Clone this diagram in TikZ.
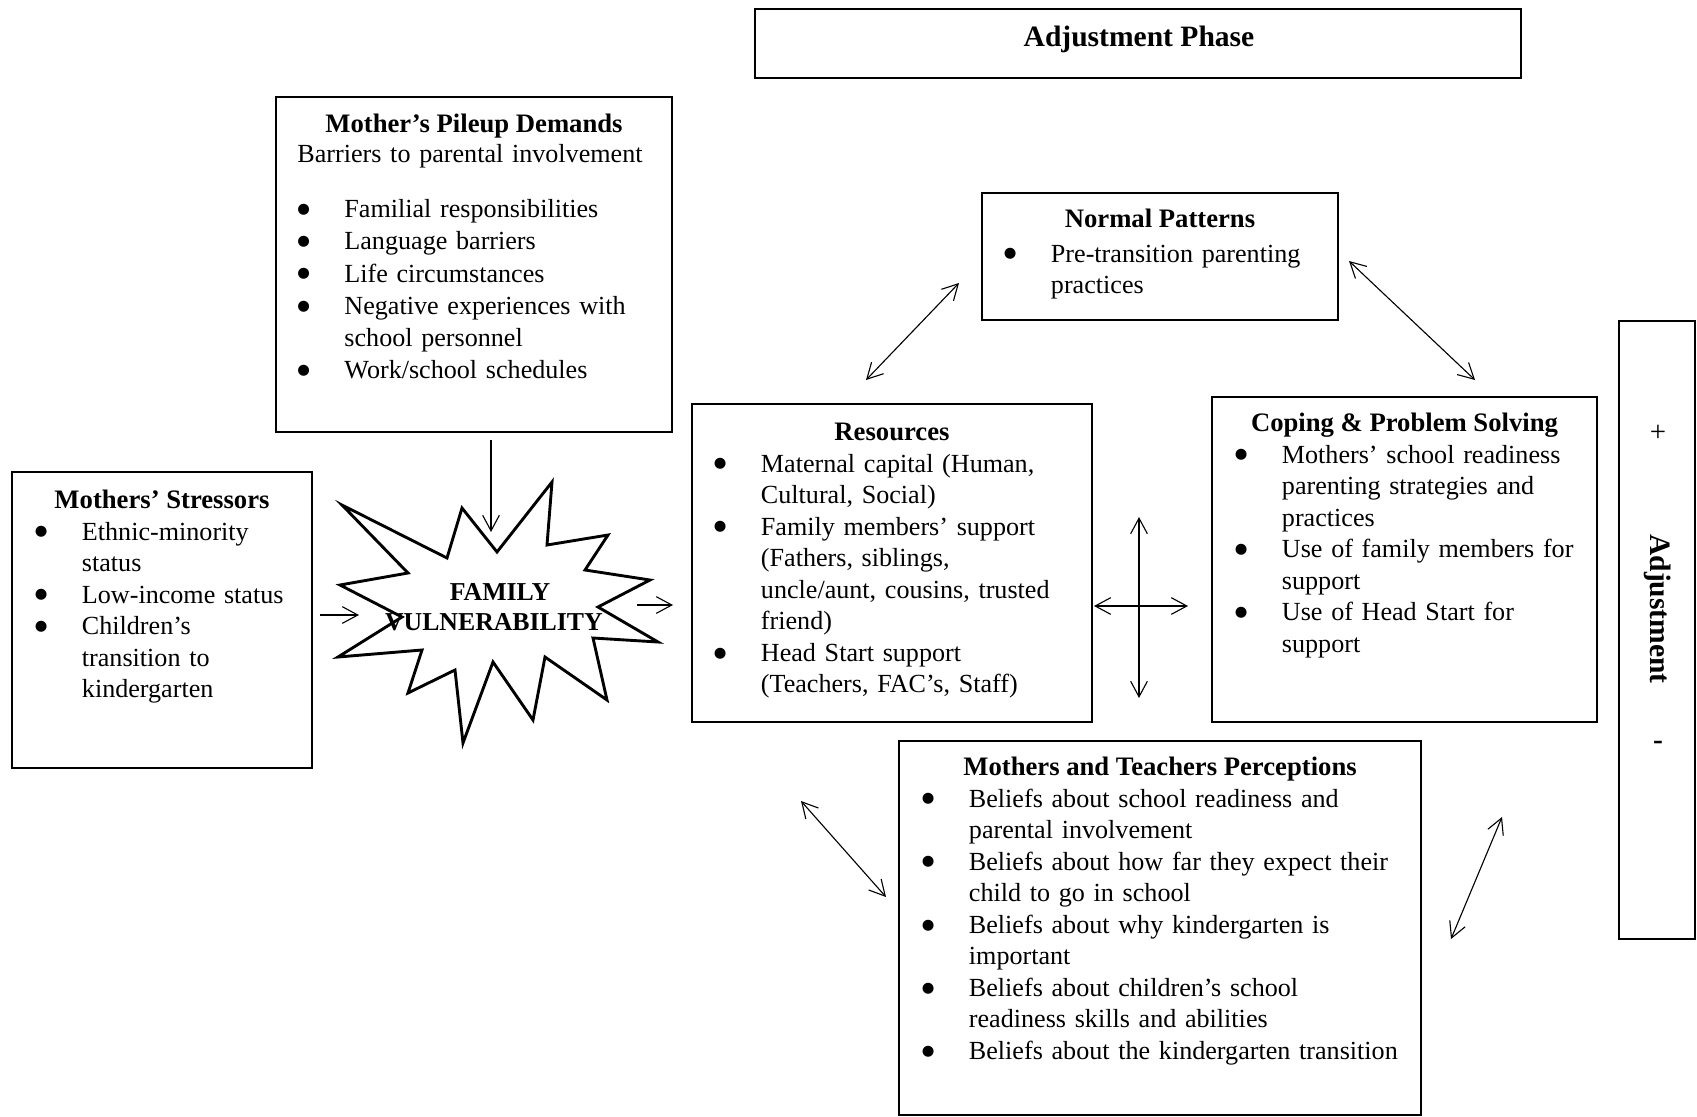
\documentclass[tikz,border=0pt]{standalone}
\usepackage{fontspec}
\setmainfont{Liberation Serif}
\newfontfamily\dotfont{DejaVu Sans}
\usetikzlibrary{arrows.meta}

\newcommand\unitpx{0.45pt}% один пиксель
\newcommand\bl{\makebox[21.15pt][l]{\raisebox{1.9pt}{\dotfont\fontsize{6.5pt}{7pt}\selectfont ●}}}% маркер списка
\newcommand\cl{\hspace*{21.15pt}}% отступ продолжения

\tikzset{
  box/.style={draw,line width=1.3pt,inner sep=0pt},
  head/.style={font=\fontsize{12pt}{14.2pt}\selectfont\bfseries,anchor=base,inner sep=0pt},
  big/.style={font=\fontsize{13.3pt}{15pt}\selectfont\bfseries,inner sep=0pt},
  body/.style={font=\fontsize{11.75pt}{14.2pt}\selectfont,anchor=base west,inner sep=0pt,text width=250pt,align=left},
  arr/.style={-{Straight Barb[length=7pt,width=7.5pt]},line width=0.5pt},
  darr/.style={{Straight Barb[length=7pt,width=7.5pt]}-{Straight Barb[length=7pt,width=7.5pt]},line width=0.5pt}
}

\begin{document}
\begin{tikzpicture}[x=0.45pt,y=-0.45pt]

\useasboundingbox (0,0) rectangle (1697,1116);

\node[box,minimum width=766*\unitpx,minimum height=69*\unitpx] (phase) at (1138,43.5) {};
\node[big,anchor=base] (phaseT) at (1139,46) {Adjustment Phase};

\node[box,minimum width=396*\unitpx,minimum height=335*\unitpx] (pile) at (474,264.5) {};
\node[head] (pileT) at (474,132) {Mother’s Pileup Demands};
\node[body,font=\fontsize{11.75pt}{14.5pt}\selectfont] (pileB) at (297,162) {Barriers to parental involvement\\[10.5pt]
\bl Familial responsibilities\\
\bl Language barriers\\
\bl Life circumstances\\
\bl Negative experiences with\\
\cl school personnel\\
\bl Work/school schedules};

\node[box,minimum width=300*\unitpx,minimum height=296*\unitpx] (stress) at (162,620) {};
\node[head] (stressT) at (162,508) {Mothers’ Stressors};
\node[body] (stressB) at (34.5,540) {\bl Ethnic-minority\\
\cl status\\
\bl Low-income status\\
\bl Children’s\\
\cl transition to\\
\cl kindergarten};

\node[box,minimum width=356*\unitpx,minimum height=127*\unitpx] (norm) at (1160,256.5) {};
\node[head] (normT) at (1160,227) {Normal Patterns};
\node[body] (normB) at (1003.5,262) {\bl Pre-transition parenting\\
\cl practices};

\node[box,minimum width=400*\unitpx,minimum height=318*\unitpx] (res) at (892,563) {};
\node[head] (resT) at (892,440) {Resources};
\node[body] (resB) at (713.5,472) {\bl Maternal capital (Human,\\
\cl Cultural, Social)\\
\bl Family members’ support\\
\cl (Fathers, siblings,\\
\cl uncle/aunt, cousins, trusted\\
\cl friend)\\
\bl Head Start support\\
\cl (Teachers, FAC’s, Staff)};

\node[box,minimum width=385*\unitpx,minimum height=325*\unitpx] (cop) at (1404.5,559.5) {};
\node[head] (copT) at (1404.5,431) {Coping \& Problem Solving};
\node[body] (copB) at (1234.5,463) {\bl Mothers’ school readiness\\
\cl parenting strategies and\\
\cl practices\\
\bl Use of family members for\\
\cl support\\
\bl Use of Head Start for\\
\cl support};

\node[box,minimum width=522*\unitpx,minimum height=374*\unitpx] (perc) at (1160,928) {};
\node[head] (percT) at (1160,775) {Mothers and Teachers Perceptions};
\node[body] (percB) at (921.5,807) {\bl Beliefs about school readiness and\\
\cl parental involvement\\
\bl Beliefs about how far they expect their\\
\cl child to go in school\\
\bl Beliefs about why kindergarten is\\
\cl important\\
\bl Beliefs about children’s school\\
\cl readiness skills and abilities\\
\bl Beliefs about the kindergarten transition};

\node[box,minimum width=76*\unitpx,minimum height=618*\unitpx] (adj) at (1657,630) {};
\node[font=\fontsize{13pt}{14.2pt}\selectfont,inner sep=0pt] (plus) at (1658,433) {+};
\node[big,rotate=-90] (adjT) at (1658,609) {Adjustment};
\node[big] (minus) at (1658,745) {-};

% звезда
\draw[line width=1.3pt,line join=miter] (342,505) -- (447,558) -- (462,508) -- (497,552)
  -- (552,482) -- (547,545) -- (608,535) -- (585,570) -- (650,580) -- (598,607)
  -- (658,642) -- (593,638) -- (607,700) -- (545,657) -- (533,720) -- (493,662)
  -- (463,743) -- (455,670) -- (408,693) -- (422,650) -- (338,657) -- (402,617)
  -- (340,585) -- (408,573) -- cycle;
\node[head,font=\fontsize{11.6pt}{13.6pt}\selectfont\bfseries,text width=200pt,align=center] (fv) at (500,600) {FAMILY\\\hspace*{-5.5pt}VULNERABILITY};

\coordinate (pileS) at (491,440);
\coordinate (fvN) at (491,532);% концы стрелок
\coordinate (stressE) at (320,615);
\coordinate (fvW) at (359,615);
\coordinate (fvE) at (637,605);
\coordinate (resW) at (673,605);

\draw[arr] (pileS) -- (fvN);
\draw[arr] (stressE) -- (fvW);
\draw[arr] (fvE) -- (resW);

\coordinate (resNE) at (866,380);
\coordinate (normSW) at (959,283);
\coordinate (normSE) at (1349,261);
\coordinate (copNW) at (1475,380);
\coordinate (resSE) at (801,801);
\coordinate (percNW) at (886,897);
\coordinate (copSW) at (1502,817);
\coordinate (percNE) at (1451,939);

\draw[darr] (resNE) -- (normSW);
\draw[darr] (normSE) -- (copNW);% двусторонние
\draw[darr] (resSE) -- (percNW);
\draw[darr] (copSW) -- (percNE);

\coordinate (crW) at (1094,606);
\coordinate (crE) at (1188,606);
\coordinate (crN) at (1139,517);% крест
\coordinate (crS) at (1139,698);

\draw[darr] (crW) -- (crE);
\draw[darr] (crN) -- (crS);

\end{tikzpicture}
\end{document}
